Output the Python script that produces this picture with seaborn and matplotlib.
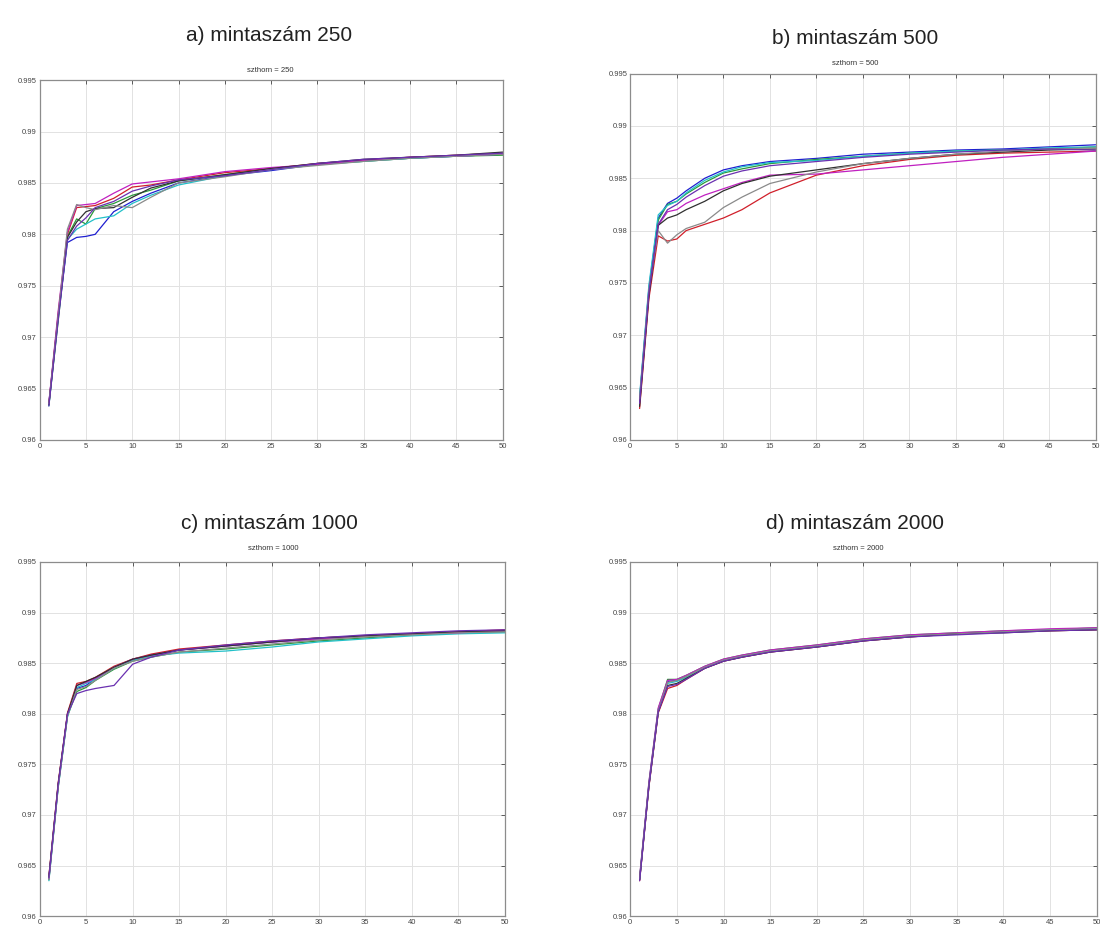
import numpy as np
import pandas as pd
import matplotlib
matplotlib.use("Agg")
import matplotlib.pyplot as plt
from matplotlib.ticker import FuncFormatter, MultipleLocator
import seaborn as sns

# ---------------- data ----------------
x_iter = [1, 2, 3, 4, 5, 6, 8, 10, 12, 15, 20, 25, 30, 35, 40, 45, 50]

runs_250 = [
    [0.9636, 0.9720, 0.9792, 0.9797, 0.9798, 0.9800, 0.9822, 0.9832, 0.9840, 0.9850, 0.9857, 0.9862, 0.9868, 0.9872, 0.9874, 0.9876, 0.9878],
    [0.9634, 0.9715, 0.9798, 0.9815, 0.9810, 0.9825, 0.9830, 0.9838, 0.9843, 0.9852, 0.9858, 0.9864, 0.9868, 0.9871, 0.9874, 0.9876, 0.9877],
    [0.9635, 0.9722, 0.9800, 0.9826, 0.9827, 0.9828, 0.9835, 0.9846, 0.9848, 0.9853, 0.9860, 0.9864, 0.9869, 0.9872, 0.9875, 0.9877, 0.9879],
    [0.9633, 0.9718, 0.9795, 0.9805, 0.9810, 0.9815, 0.9818, 0.9830, 0.9838, 0.9848, 0.9857, 0.9863, 0.9868, 0.9871, 0.9874, 0.9876, 0.9878],
    [0.9636, 0.9725, 0.9802, 0.9828, 0.9829, 0.9830, 0.9840, 0.9849, 0.9851, 0.9854, 0.9861, 0.9865, 0.9868, 0.9872, 0.9875, 0.9876, 0.9878],
    [0.9634, 0.9719, 0.9797, 0.9812, 0.9822, 0.9825, 0.9826, 0.9836, 0.9845, 0.9852, 0.9858, 0.9864, 0.9869, 0.9873, 0.9875, 0.9877, 0.9880],
    [0.9635, 0.9721, 0.9805, 0.9829, 0.9826, 0.9824, 0.9828, 0.9826, 0.9836, 0.9850, 0.9856, 0.9863, 0.9867, 0.9871, 0.9874, 0.9876, 0.9878],
    [0.9633, 0.9716, 0.9794, 0.9808, 0.9816, 0.9826, 0.9832, 0.9842, 0.9847, 0.9853, 0.9857, 0.9863, 0.9869, 0.9873, 0.9875, 0.9877, 0.9879],
]

runs_500 = [
    [0.9640, 0.9745, 0.9812, 0.9826, 0.9831, 0.9838, 0.9850, 0.9858, 0.9862, 0.9866, 0.9869, 0.9873, 0.9875, 0.9877, 0.9878, 0.9880, 0.9882],
    [0.9638, 0.9742, 0.9810, 0.9825, 0.9828, 0.9835, 0.9846, 0.9855, 0.9859, 0.9864, 0.9868, 0.9871, 0.9874, 0.9876, 0.9877, 0.9878, 0.9880],
    [0.9630, 0.9735, 0.9795, 0.9790, 0.9792, 0.9800, 0.9806, 0.9812, 0.9820, 0.9836, 0.9853, 0.9862, 0.9868, 0.9872, 0.9874, 0.9875, 0.9876],
    [0.9642, 0.9748, 0.9815, 0.9824, 0.9828, 0.9836, 0.9848, 0.9856, 0.9861, 0.9865, 0.9867, 0.9871, 0.9874, 0.9876, 0.9877, 0.9879, 0.9880],
    [0.9636, 0.9740, 0.9805, 0.9818, 0.9820, 0.9826, 0.9834, 0.9840, 0.9846, 0.9853, 0.9854, 0.9858, 0.9862, 0.9866, 0.9870, 0.9873, 0.9876],
    [0.9632, 0.9738, 0.9805, 0.9812, 0.9815, 0.9820, 0.9828, 0.9838, 0.9845, 0.9852, 0.9858, 0.9864, 0.9869, 0.9873, 0.9875, 0.9877, 0.9878],
    [0.9639, 0.9744, 0.9800, 0.9788, 0.9796, 0.9802, 0.9808, 0.9822, 0.9832, 0.9845, 0.9856, 0.9864, 0.9869, 0.9873, 0.9876, 0.9878, 0.9879],
    [0.9635, 0.9741, 0.9806, 0.9820, 0.9825, 0.9832, 0.9843, 0.9852, 0.9857, 0.9862, 0.9866, 0.9870, 0.9873, 0.9875, 0.9877, 0.9878, 0.9877],
]

runs_1000 = [
    [0.9638, 0.9730, 0.9800, 0.9825, 0.9828, 0.9835, 0.9846, 0.9853, 0.9858, 0.9863, 0.9867, 0.9871, 0.9874, 0.9877, 0.9879, 0.9881, 0.9882],
    [0.9636, 0.9728, 0.9798, 0.9822, 0.9826, 0.9833, 0.9844, 0.9852, 0.9856, 0.9861, 0.9864, 0.9868, 0.9872, 0.9875, 0.9878, 0.9880, 0.9881],
    [0.9640, 0.9732, 0.9801, 0.9830, 0.9832, 0.9836, 0.9847, 0.9854, 0.9859, 0.9864, 0.9868, 0.9872, 0.9875, 0.9877, 0.9879, 0.9881, 0.9883],
    [0.9635, 0.9727, 0.9797, 0.9826, 0.9830, 0.9834, 0.9845, 0.9853, 0.9857, 0.9860, 0.9862, 0.9866, 0.9871, 0.9874, 0.9877, 0.9879, 0.9880],
    [0.9637, 0.9729, 0.9799, 0.9828, 0.9831, 0.9835, 0.9846, 0.9854, 0.9858, 0.9863, 0.9867, 0.9871, 0.9874, 0.9877, 0.9879, 0.9880, 0.9882],
    [0.9639, 0.9731, 0.9800, 0.9828, 0.9832, 0.9836, 0.9846, 0.9854, 0.9858, 0.9863, 0.9867, 0.9871, 0.9875, 0.9877, 0.9879, 0.9881, 0.9882],
    [0.9636, 0.9728, 0.9798, 0.9824, 0.9827, 0.9833, 0.9845, 0.9852, 0.9856, 0.9861, 0.9865, 0.9869, 0.9873, 0.9876, 0.9878, 0.9880, 0.9881],
    [0.9638, 0.9730, 0.9800, 0.9820, 0.9823, 0.9825, 0.9828, 0.9849, 0.9856, 0.9863, 0.9868, 0.9872, 0.9875, 0.9878, 0.9880, 0.9882, 0.9883],
]

runs_2000 = [
    [0.9636, 0.9730, 0.9803, 0.9832, 0.9833, 0.9837, 0.9846, 0.9853, 0.9857, 0.9862, 0.9867, 0.9873, 0.9877, 0.9879, 0.9881, 0.9883, 0.9884],
    [0.9638, 0.9732, 0.9805, 0.9834, 0.9834, 0.9838, 0.9847, 0.9854, 0.9858, 0.9863, 0.9868, 0.9874, 0.9878, 0.9880, 0.9882, 0.9883, 0.9885],
    [0.9635, 0.9728, 0.9801, 0.9825, 0.9828, 0.9834, 0.9845, 0.9852, 0.9856, 0.9861, 0.9866, 0.9872, 0.9876, 0.9879, 0.9881, 0.9882, 0.9883],
    [0.9637, 0.9731, 0.9804, 0.9830, 0.9832, 0.9836, 0.9846, 0.9853, 0.9857, 0.9862, 0.9867, 0.9873, 0.9877, 0.9879, 0.9881, 0.9883, 0.9884],
    [0.9639, 0.9733, 0.9806, 0.9833, 0.9834, 0.9838, 0.9847, 0.9854, 0.9858, 0.9863, 0.9868, 0.9874, 0.9878, 0.9880, 0.9882, 0.9884, 0.9885],
    [0.9636, 0.9729, 0.9802, 0.9828, 0.9830, 0.9835, 0.9845, 0.9852, 0.9856, 0.9861, 0.9866, 0.9872, 0.9876, 0.9879, 0.9880, 0.9882, 0.9883],
    [0.9637, 0.9730, 0.9803, 0.9831, 0.9833, 0.9837, 0.9846, 0.9853, 0.9857, 0.9862, 0.9867, 0.9873, 0.9877, 0.9879, 0.9881, 0.9883, 0.9884],
    [0.9635, 0.9729, 0.9802, 0.9827, 0.9829, 0.9834, 0.9845, 0.9852, 0.9856, 0.9861, 0.9866, 0.9872, 0.9876, 0.9878, 0.9880, 0.9882, 0.9883],
]

sample_sizes = [250, 500, 1000, 2000]
panel_titles = ["a) mintaszám 250", "b) mintaszám 500", "c) mintaszám 1000", "d) mintaszám 2000"]
sub_titles = ["szthorn = 250", "szthorn = 500", "szthorn = 1000", "szthorn = 2000"]
all_runs = [runs_250, runs_500, runs_1000, runs_2000]

line_colors = ["#1f1fd0", "#2a9a3a", "#d01f2a", "#22c0c8", "#c020c0", "#303030", "#8a8a8a", "#6a30b0"]

# ---------------- style ----------------
sns.set_style("white")
plt.rcParams["font.family"] = ["Liberation Sans", "DejaVu Sans"]

fig = plt.figure(figsize=(11.0, 9.32), dpi=100)

# axes rectangles [left, bottom, width, height] in figure fractions
rects = [
    [0.036, 0.528, 0.421, 0.386],
    [0.573, 0.528, 0.423, 0.393],
    [0.036, 0.017, 0.423, 0.380],
    [0.573, 0.017, 0.424, 0.380],
]
main_title_pos = [(0.245, 0.962), (0.777, 0.959), (0.245, 0.438), (0.777, 0.438)]
sub_title_pos = [(0.246, 0.924), (0.777, 0.932), (0.248, 0.411), (0.780, 0.411)]

fmt = FuncFormatter(lambda v, p: f"{round(v, 4):g}")

for i in range(4):
    runs = all_runs[i]
    rows = []
    for r, vals in enumerate(runs):
        for xv, yv in zip(x_iter, vals):
            rows.append({"iter": xv, "acc": yv, "run": f"r{r}"})
    df = pd.DataFrame(rows)

    ax = fig.add_axes(rects[i])
    sns.lineplot(data=df, x="iter", y="acc", hue="run", palette=line_colors,
                 linewidth=0.9, legend=False, ax=ax, estimator=None, sort=False)

    ax.set_xlim(0, 50)
    ax.set_ylim(0.96, 0.995)
    ax.xaxis.set_major_locator(MultipleLocator(5))
    ax.yaxis.set_major_locator(MultipleLocator(0.005))
    ax.yaxis.set_major_formatter(fmt)
    ax.set_xlabel("")
    ax.set_ylabel("")
    ax.grid(True, color="#e2e2e2", linewidth=0.7)
    ax.set_axisbelow(True)
    ax.tick_params(direction="in", length=3, width=0.6, labelsize=5.5,
                   colors="#444444", top=True, right=True, pad=2)
    for s in ax.spines.values():
        s.set_color("#8c8c8c")
        s.set_linewidth(0.9)

    fig.text(main_title_pos[i][0], main_title_pos[i][1], panel_titles[i],
             ha="center", va="center", fontsize=15, color="#222222")
    fig.text(sub_title_pos[i][0], sub_title_pos[i][1], sub_titles[i],
             ha="center", va="center", fontsize=5.5, color="#333333")

fig.savefig("out.png", dpi=100)
